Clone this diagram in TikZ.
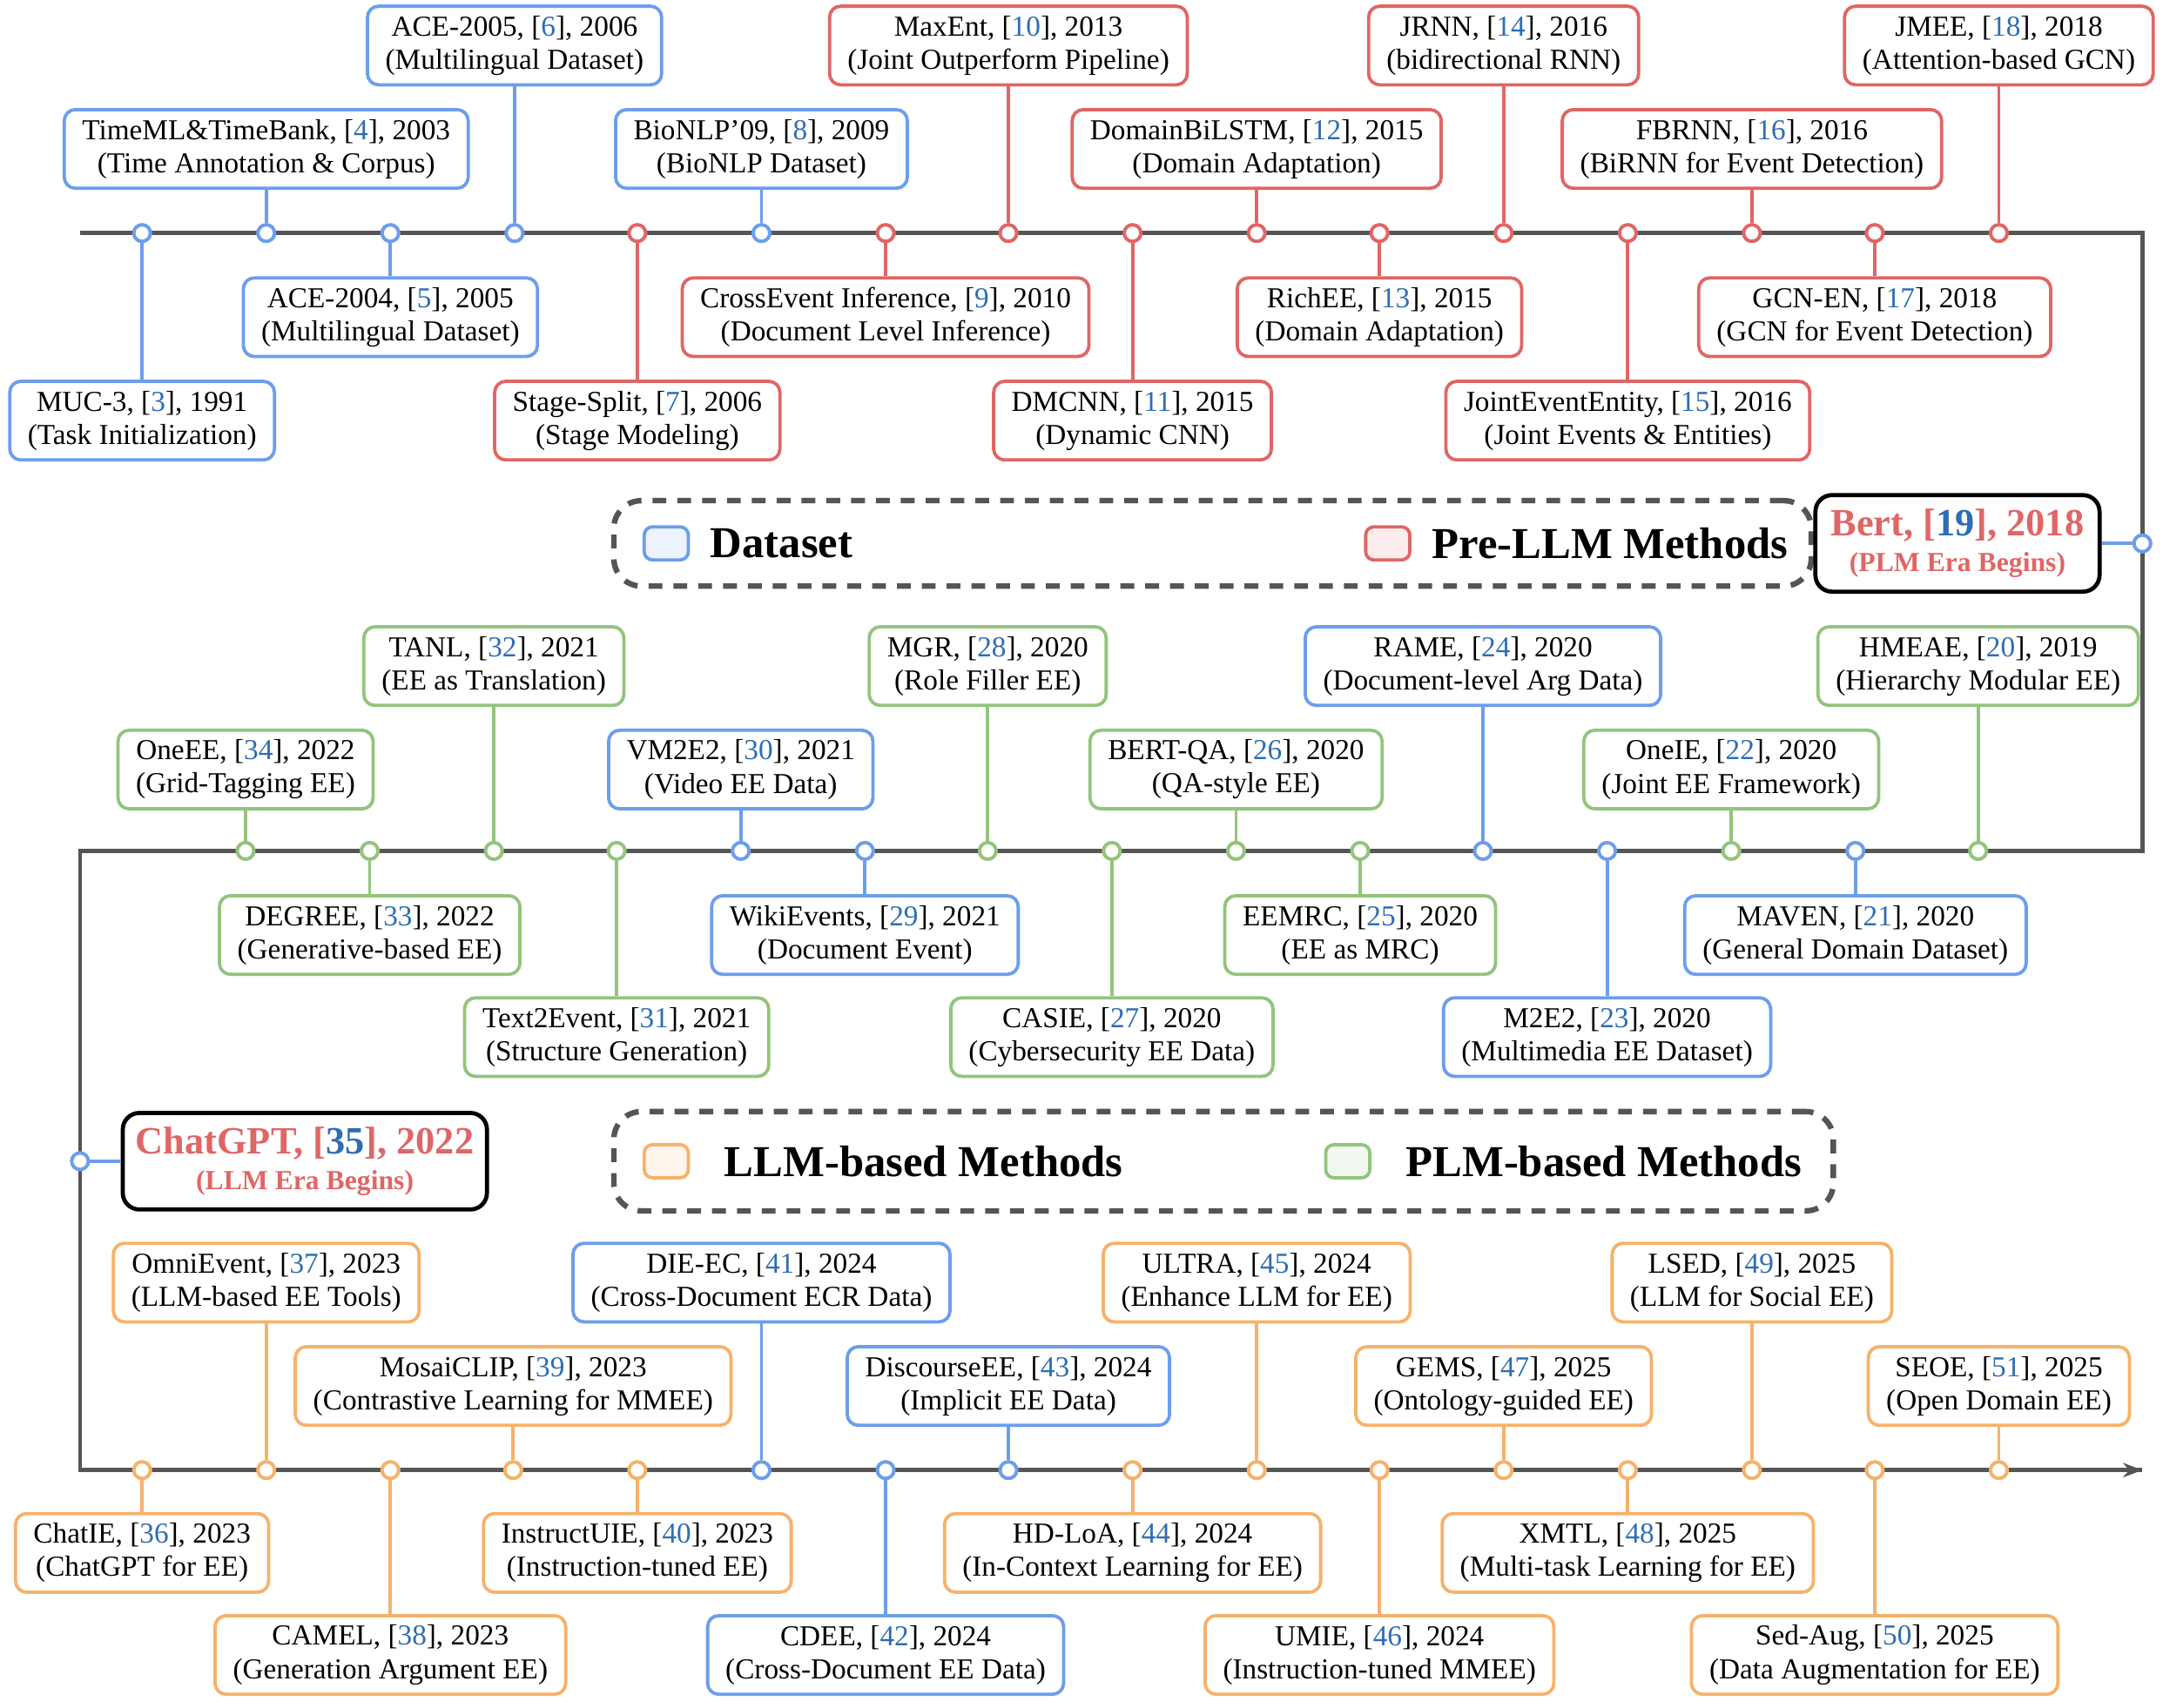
\documentclass[tikz,border=0pt]{standalone}
\usepackage{fontspec}
\setmainfont{Liberation Serif}
\usetikzlibrary{arrows.meta}
\definecolor{bl}{HTML}{6D9EEB}
\definecolor{rd}{HTML}{E06666}
\definecolor{gr}{HTML}{93C47D}
\definecolor{or}{HTML}{F6B26B}
\definecolor{cite}{HTML}{2E6DB4}
\definecolor{tl}{HTML}{555555}
\newcommand\cc[1]{[\textcolor{cite}{#1}]}
\tikzset{
 box/.style={draw=#1,line width=1.2pt,rounded corners=4pt,fill=white,align=center,inner xsep=6.5pt,minimum height=28.5pt,font=\fontsize{10.5}{12}\selectfont},
 dot/.style={circle,draw=#1,fill=white,line width=1.2pt,minimum size=6pt,inner sep=0pt},
 conn/.style={draw=#1,line width=1.2pt},
 tline/.style={draw=tl,line width=1.5pt},
 leg/.style={draw=#1,fill=#1!12,line width=1.2pt,rounded corners=3pt,minimum width=16pt,minimum height=12pt,inner sep=0pt},
 legt/.style={font=\fontsize{16}{19}\selectfont\bfseries},
 era/.style={draw=black,line width=1.5pt,rounded corners=6pt,fill=white,align=center,minimum height=35pt,text=rd,inner sep=2pt},
}
\newcommand\evt[7]{%
 \node[box=#1] (b#2) at (#3,#5) {#6\\#7};
 \node[dot=#1] (d#2) at (#3,#4) {};
 \draw[conn=#1] (d#2) -- (b#2);
 \node[dot=#1] at (#3,#4) {};}
\begin{document}
\begin{tikzpicture}[x=0.5pt,y=-0.5pt]
\useasboundingbox (0,0) rectangle (1568,1238);
\coordinate (a1) at (58,169); \coordinate (a2) at (1553,169);
\coordinate (a3) at (1553,617); \coordinate (a4) at (58,617);
\coordinate (a5) at (58,1066); \coordinate (a6) at (1553,1066);
\draw[tline] (a1) -- (a2) -- (a3) -- (a4) -- (a5) -- (a6);
\draw[tline,-{Stealth[length=7pt]}] (1500,1066) -- (a6);
% timeline 1
\evt{bl}{muc}{103}{169}{305}{MUC-3, \cc{3}, 1991}{(Task Initialization)}
\evt{bl}{tml}{193}{169}{108}{TimeML\&TimeBank, \cc{4}, 2003}{(Time Annotation \& Corpus)}
\evt{bl}{ace4}{283}{169}{230}{ACE-2004, \cc{5}, 2005}{(Multilingual Dataset)}
\evt{bl}{ace5}{373}{169}{33}{ACE-2005, \cc{6}, 2006}{(Multilingual Dataset)}
\evt{rd}{stg}{462}{169}{305}{Stage-Split, \cc{7}, 2006}{(Stage Modeling)}
\evt{bl}{bio}{552}{169}{108}{BioNLP'09, \cc{8}, 2009}{(BioNLP Dataset)}
\evt{rd}{cross}{642}{169}{230}{CrossEvent Inference, \cc{9}, 2010}{(Document Level Inference)}
\evt{rd}{maxent}{731}{169}{33}{MaxEnt, \cc{10}, 2013}{(Joint Outperform Pipeline)}
\evt{rd}{dmcnn}{821}{169}{305}{DMCNN, \cc{11}, 2015}{(Dynamic CNN)}
\evt{rd}{dbl}{911}{169}{108}{DomainBiLSTM, \cc{12}, 2015}{(Domain Adaptation)}
\evt{rd}{rich}{1000}{169}{230}{RichEE, \cc{13}, 2015}{(Domain Adaptation)}
\evt{rd}{jrnn}{1090}{169}{33}{JRNN, \cc{14}, 2016}{(bidirectional RNN)}
\evt{rd}{jee}{1180}{169}{305}{JointEventEntity, \cc{15}, 2016}{(Joint Events \& Entities)}
\evt{rd}{fb}{1270}{169}{108}{FBRNN, \cc{16}, 2016}{(BiRNN for Event Detection)}
\evt{rd}{gcn}{1359}{169}{230}{GCN-EN, \cc{17}, 2018}{(GCN for Event Detection)}
\evt{rd}{jmee}{1449}{169}{33}{JMEE, \cc{18}, 2018}{(Attention-based GCN)}
% legend 1
\node[draw=tl,line width=2pt,dash pattern=on 5pt off 4pt,rounded corners=10pt,minimum width=434pt,minimum height=31pt] (lg1) at (879,394) {};
\node[leg=bl] (l1a) at (483,394) {};
\node[legt,anchor=west] (l1at) at (508,394) {Dataset};
\node[leg=rd] (l1b) at (1006,394) {};
\node[legt,anchor=west] (l1bt) at (1031,394) {Pre-LLM Methods};
\node[era,minimum width=103pt] (bert) at (1419,394) {\fontsize{14}{16}\selectfont\bfseries Bert, [\textcolor{cite}{19}], 2018\\[1pt]\fontsize{10}{12}\selectfont\bfseries (PLM Era Begins)};
\node[dot=bl] (dbert) at (1553,394) {};
\draw[conn=bl] (bert) -- (dbert);
\node[dot=bl] at (1553,394) {};
% timeline 2
\evt{gr}{oneee}{178}{617}{558}{OneEE, \cc{34}, 2022}{(Grid-Tagging EE)}
\evt{gr}{degree}{268}{617}{678}{DEGREE, \cc{33}, 2022}{(Generative-based EE)}
\evt{gr}{tanl}{358}{617}{483}{TANL, \cc{32}, 2021}{(EE as Translation)}
\evt{gr}{t2e}{447}{617}{752}{Text2Event, \cc{31}, 2021}{(Structure Generation)}
\evt{bl}{vm}{537}{617}{558}{VM2E2, \cc{30}, 2021}{(Video EE Data)}
\evt{bl}{wiki}{627}{617}{678}{WikiEvents, \cc{29}, 2021}{(Document Event)}
\evt{gr}{mgr}{716}{617}{483}{MGR, \cc{28}, 2020}{(Role Filler EE)}
\evt{gr}{casie}{806}{617}{752}{CASIE, \cc{27}, 2020}{(Cybersecurity EE Data)}
\evt{gr}{bqa}{896}{617}{558}{BERT-QA, \cc{26}, 2020}{(QA-style EE)}
\evt{gr}{eemrc}{986}{617}{678}{EEMRC, \cc{25}, 2020}{(EE as MRC)}
\evt{bl}{rame}{1075}{617}{483}{RAME, \cc{24}, 2020}{(Document-level Arg Data)}
\evt{bl}{m2e2}{1165}{617}{752}{M2E2, \cc{23}, 2020}{(Multimedia EE Dataset)}
\evt{gr}{oneie}{1255}{617}{558}{OneIE, \cc{22}, 2020}{(Joint EE Framework)}
\evt{bl}{maven}{1345}{617}{678}{MAVEN, \cc{21}, 2020}{(General Domain Dataset)}
\evt{gr}{hmeae}{1434}{617}{483}{HMEAE, \cc{20}, 2019}{(Hierarchy Modular EE)}
% legend 2
\node[draw=tl,line width=2pt,dash pattern=on 5pt off 4pt,rounded corners=10pt,minimum width=442pt,minimum height=36pt] (lg2) at (887,842) {};
\node[leg=or] (l2a) at (483,842) {};
\node[legt,anchor=west] (l2at) at (518,842) {LLM-based Methods};
\node[leg=gr] (l2b) at (977,842) {};
\node[legt,anchor=west] (l2bt) at (1012,842) {PLM-based Methods};
\node[era,minimum width=132pt] (gpt) at (221,842) {\fontsize{14}{16}\selectfont\bfseries ChatGPT, [\textcolor{cite}{35}], 2022\\[1pt]\fontsize{10}{12}\selectfont\bfseries (LLM Era Begins)};
\node[dot=bl] (dgpt) at (58,842) {};
\draw[conn=bl] (gpt) -- (dgpt);
\node[dot=bl] at (58,842) {};
% timeline 3
\evt{or}{chatie}{103}{1066}{1126}{ChatIE, \cc{36}, 2023}{(ChatGPT for EE)}
\evt{or}{omni}{193}{1066}{930}{OmniEvent, \cc{37}, 2023}{(LLM-based EE Tools)}
\evt{or}{camel}{283}{1066}{1200}{CAMEL, \cc{38}, 2023}{(Generation Argument EE)}
\evt{or}{mosaic}{372}{1066}{1005}{MosaiCLIP, \cc{39}, 2023}{(Contrastive Learning for MMEE)}
\evt{or}{iuie}{462}{1066}{1126}{InstructUIE, \cc{40}, 2023}{(Instruction-tuned EE)}
\evt{bl}{dieec}{552}{1066}{930}{DIE-EC, \cc{41}, 2024}{(Cross-Document ECR Data)}
\evt{bl}{cdee}{642}{1066}{1200}{CDEE, \cc{42}, 2024}{(Cross-Document EE Data)}
\evt{bl}{disc}{731}{1066}{1005}{DiscourseEE, \cc{43}, 2024}{(Implicit EE Data)}
\evt{or}{hdloa}{821}{1066}{1126}{HD-LoA, \cc{44}, 2024}{(In-Context Learning for EE)}
\evt{or}{ultra}{911}{1066}{930}{ULTRA, \cc{45}, 2024}{(Enhance LLM for EE)}
\evt{or}{umie}{1000}{1066}{1200}{UMIE, \cc{46}, 2024}{(Instruction-tuned MMEE)}
\evt{or}{gems}{1090}{1066}{1005}{GEMS, \cc{47}, 2025}{(Ontology-guided EE)}
\evt{or}{xmtl}{1180}{1066}{1126}{XMTL, \cc{48}, 2025}{(Multi-task Learning for EE)}
\evt{or}{lsed}{1270}{1066}{930}{LSED, \cc{49}, 2025}{(LLM for Social EE)}
\evt{or}{sedaug}{1359}{1066}{1200}{Sed-Aug, \cc{50}, 2025}{(Data Augmentation for EE)}
\evt{or}{seoe}{1449}{1066}{1005}{SEOE, \cc{51}, 2025}{(Open Domain EE)}
\end{tikzpicture}
\end{document}
